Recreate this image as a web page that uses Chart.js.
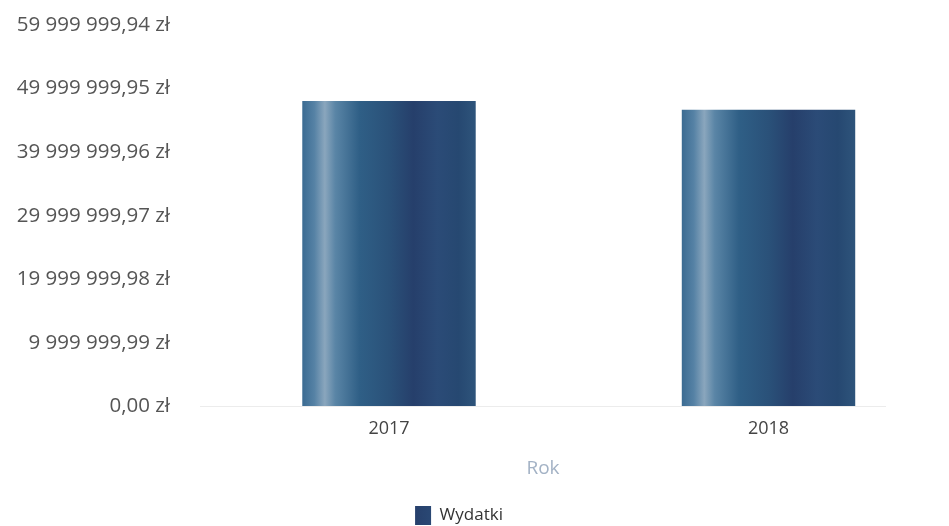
<!DOCTYPE html>
<html>
<head>
<meta charset="utf-8">
<script src="https://cdn.jsdelivr.net/npm/chart.js@4.4.1/dist/chart.umd.min.js"></script>
<style>
html,body{margin:0;padding:0;background:#fff;overflow:hidden}
#wrap{width:949px;height:526px;position:relative}
</style>
</head>
<body>
<div id="wrap"><canvas id="c"></canvas></div>
<script>
const categories = ['2017', '2018'];
const seriesName = 'Wydatki';
const wydatki = [48050000, 46690000];
const yTickValues = [0, 9999999.99, 19999999.98, 29999999.97, 39999999.96, 49999999.95, 59999999.94];
const yTickLabels = ['0,00 zł', '9 999 999,99 zł', '19 999 999,98 zł', '29 999 999,97 zł', '39 999 999,96 zł', '49 999 999,95 zł', '59 999 999,94 zł'];
const xAxisTitle = 'Rok';

const BAR_PCT = 0.457;
const FONT = '"Open Sans", "Noto Sans", sans-serif';

function barFill(ctx) {
  const chart = ctx.chart;
  const xs = chart.scales && chart.scales.x;
  if (!xs || ctx.type !== 'data' || ctx.dataIndex === undefined) return '#2d5680';
  const cx = xs.getPixelForValue(ctx.dataIndex);
  const w = (xs.getPixelForValue(1) - xs.getPixelForValue(0)) * BAR_PCT;
  if (!isFinite(cx) || !isFinite(w)) return '#2d5680';
  const g = chart.ctx.createLinearGradient(cx - w / 2, 0, cx + w / 2, 0);
  g.addColorStop(0.00, '#3b6b92');
  g.addColorStop(0.07, '#5682a5');
  g.addColorStop(0.13, '#8aa6bd');
  g.addColorStop(0.19, '#5a85a6');
  g.addColorStop(0.33, '#2f5f86');
  g.addColorStop(0.50, '#2a5179');
  g.addColorStop(0.64, '#263f6b');
  g.addColorStop(0.78, '#2b4b77');
  g.addColorStop(0.90, '#264871');
  g.addColorStop(1.00, '#2e547b');
  return g;
}

// let the y tick labels extend past the axis box without being clipped
const unclipYLabels = {
  id: 'unclipYLabels',
  afterLayout(chart) { if (chart.scales.y) chart.scales.y.left = 0; }
};

new Chart(document.getElementById('c'), {
  type: 'bar',
  data: {
    datasets: [{
      label: seriesName,
      data: categories.map((c, i) => ({ x: i, y: wydatki[i] })),
      backgroundColor: barFill,
      borderWidth: 0,
      barPercentage: BAR_PCT,
      categoryPercentage: 1
    }]
  },
  plugins: [unclipYLabels],
  options: {
    responsive: true,
    maintainAspectRatio: false,
    animation: false,
    layout: { padding: { left: 32, right: 63, top: 25, bottom: -9 } },
    scales: {
      x: {
        type: 'linear',
        min: -0.498,
        max: 1.3096,
        offset: false,
        afterBuildTicks: (s) => { s.ticks = categories.map((c, i) => ({ value: i })); },
        ticks: {
          callback: (v) => categories[v] !== undefined ? categories[v] : '',
          font: { family: FONT, size: 18 },
          color: '#444',
          padding: 3,
          maxRotation: 0
        },
        grid: { display: false },
        border: { display: false },
        title: {
          display: true,
          text: xAxisTitle,
          color: '#a3b2c5',
          font: { family: FONT, size: 19 },
          padding: { top: 15, bottom: 26 }
        }
      },
      y: {
        min: 0,
        max: 59999999.94,
        afterBuildTicks: (s) => { s.ticks = yTickValues.map(v => ({ value: v })); },
        afterFit: (s) => { s.width = 168; s.paddingTop = 0; s.paddingBottom = 0; },
        ticks: {
          callback: (v, i) => yTickLabels[i],
          font: { family: FONT, size: 20.5 },
          color: '#555',
          padding: 30
        },
        grid: {
          color: (c) => c.index === 0 ? '#ececec' : 'rgba(0,0,0,0)',
          drawTicks: false
        },
        border: { display: false }
      }
    },
    plugins: {
      legend: {
        position: 'bottom',
        labels: {
          boxWidth: 16,
          boxHeight: 19,
          padding: 0,
          color: '#333',
          font: { family: FONT, size: 17 }
        }
      },
      tooltip: { enabled: false }
    }
  }
});
</script>
</body>
</html>
